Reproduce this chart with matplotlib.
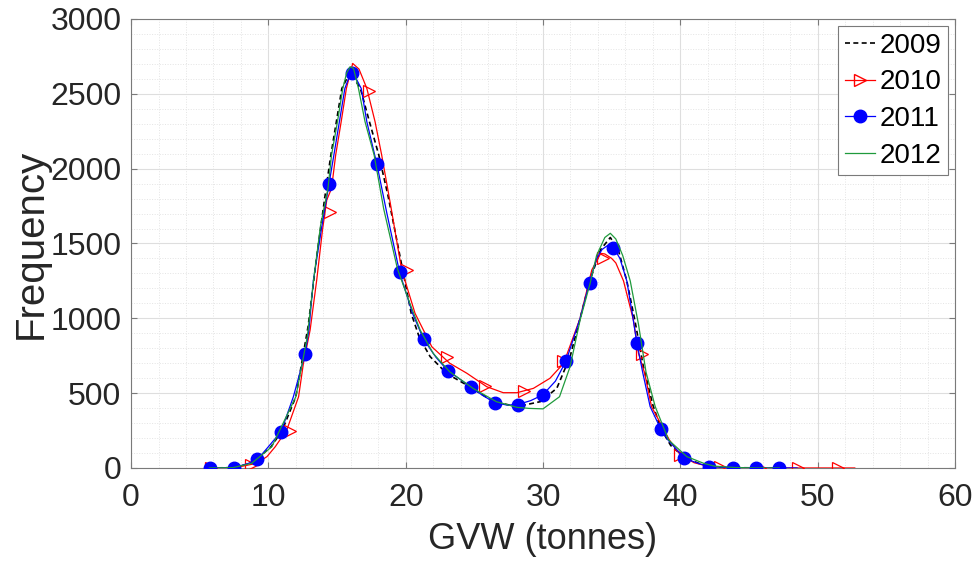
import matplotlib
matplotlib.use("Agg")
import matplotlib.pyplot as plt
from matplotlib.lines import Line2D
from matplotlib.ticker import MultipleLocator

plt.rcParams['font.family'] = ['Liberation Sans', 'DejaVu Sans']

# 2009 - smooth curve only
x2009 = [5.7, 7.4, 8.8, 10.2, 11.0, 12.0, 12.9, 13.5, 14.2, 14.55, 14.95, 15.35, 15.95,
         16.7, 17.36, 18.04, 18.7, 19.4, 20.4, 21.0, 21.78, 23.0, 24.45, 26.4, 28.1,
         29.8, 31.0, 31.97, 32.7, 33.4, 34.2, 34.9, 35.5, 36.1, 36.7, 37.3, 38.0, 38.6,
         39.3, 40.3, 41.5, 42.5, 44.0, 46.0, 47.2]
y2009 = [0, 2, 31, 142, 250, 476, 950, 1400, 1868, 2091, 2313, 2536, 2645,
         2536, 2313, 2091, 1824, 1500, 1033, 870, 744, 630, 554, 443, 410,
         443, 532, 744, 1000, 1250, 1460, 1540, 1450, 1250, 980, 680, 420, 260,
         150, 70, 25, 8, 2, 0, 0]

# 2010 - smooth curve + marker points
x2010_line = [5.5, 7.0, 8.0, 9.15, 9.9, 10.5, 11.34, 12.2, 12.55, 13.04, 13.52, 13.94,
              14.25, 14.6, 14.9, 15.3, 15.68, 16.14, 16.6, 17.17, 17.77, 18.25, 18.9,
              19.7, 20.68, 21.9, 23.2, 24.45, 25.9, 27.1, 28.1, 29.3, 30.5, 31.5, 32.3,
              32.7, 33.55, 34.2, 34.5, 35.0, 35.3, 35.86, 36.58, 36.95, 37.4, 37.9,
              39.2, 40.0, 41.0, 42.0, 43.0, 44.0, 46.0, 49.0, 52.7]
y2010_line = [0, 2, 10, 31, 76, 142, 254, 476, 699, 922, 1256, 1590,
              1790, 1868, 2091, 2313, 2536, 2703, 2665, 2536, 2313, 2091, 1757,
              1327, 1033, 810, 700, 633, 543, 503, 503, 532, 599, 699, 900,
              1000, 1323, 1434, 1430, 1400, 1370, 1250, 989, 766, 633, 410,
              187, 87, 35, 12, 5, 2, 0, 0, 0]
x2010_pts = [5.8, 8.7, 11.55, 14.5, 17.33, 20.1, 23.0, 25.8, 28.65, 31.45, 34.4,
             37.2, 40.0, 42.9, 45.8, 48.6, 51.5]
y2010_pts = [0, 20, 245, 1712, 2520, 1325, 740, 548, 515, 715, 1405,
             760, 87, 9, 0, 0, 0]

# 2011 - smooth curve + marker points
x2011_line = [5.7, 7.5, 8.55, 9.22, 10.0, 10.93, 11.82, 12.67, 12.95, 13.28, 13.85,
              14.4, 14.77, 15.17, 15.57, 16.07, 16.76, 17.17, 17.9, 18.63, 19.56, 20.5,
              21.3, 22.2, 23.06, 24.0, 24.76, 25.6, 26.5, 27.4, 28.2, 29.1, 29.98, 30.9,
              31.68, 32.7, 33.38, 33.9, 34.3, 34.84, 35.13, 35.6, 36.1, 36.5, 36.83,
              37.27, 37.8, 38.58, 39.1, 40.3, 41.3, 42.05, 43.8, 45.5, 47.2, 48.5]
y2011_line = [0, 2, 31, 58, 142, 243, 476, 762, 922, 1256, 1590,
              1890, 2091, 2313, 2536, 2659, 2536, 2313, 2030, 1701, 1305, 1033,
              860, 740, 650, 590, 539, 485, 436, 420, 425, 450, 488, 580,
              715, 1000, 1238, 1400, 1460, 1496, 1472, 1400, 1250, 1030, 837,
              633, 410, 258, 187, 65, 31, 9, 2, 0, 0, 0]
x2011_pts = [5.75, 7.5, 9.2, 10.93, 12.67, 14.4, 16.1, 17.9, 19.6, 21.3, 23.06, 24.78,
             26.5, 28.2, 29.98, 31.67, 33.4, 35.13, 36.85, 38.58, 40.3, 42.05, 43.8,
             45.5, 47.2]
y2011_pts = [0, 2, 58, 243, 762, 1897, 2641, 2031, 1307, 862, 648, 541,
             436, 423, 488, 712, 1236, 1472, 835, 258, 65, 9, 2,
             0, 0]

# 2012 - smooth curve only
x2012 = [5.7, 7.4, 8.78, 10.25, 12.0, 12.84, 13.3, 13.8, 14.34, 14.6, 15.03, 15.42,
         15.7, 15.95, 16.2, 16.56, 17.04, 17.7, 18.4, 19.4, 20.3, 21.05, 22.0, 23.2,
         24.9, 26.6, 28.1, 29.0, 30.0, 31.2, 31.97, 32.7, 33.43, 33.9, 34.5, 34.9,
         35.3, 35.8, 36.35, 36.95, 37.5, 38.17, 39.14, 40.47, 41.7, 42.5, 44.0, 45.5, 47.2]
y2012 = [0, 2, 31, 142, 476, 880, 1260, 1620, 1868, 2091, 2313, 2536,
         2640, 2681, 2670, 2536, 2313, 2091, 1730, 1330, 1100, 922, 766, 643,
         532, 443, 405, 398, 395, 476, 677, 989, 1234, 1420, 1540, 1568,
         1530, 1420, 1250, 960, 640, 410, 187, 76, 31, 12, 3, 0, 0]

c_red = '#ff0000'
c_blue = '#0000ff'
c_green = '#1f9a3c'
dash = (0, (3, 2))

fig = plt.figure(figsize=(9.78, 5.70), dpi=100)
ax = fig.add_axes([0.134, 0.179, 0.8425, 0.7877])

ax.plot(x2009, y2009, color='k', lw=1.2, ls=dash, zorder=3)
ax.plot(x2010_line, y2010_line, color=c_red, lw=0.9, zorder=3)
ax.plot(x2010_pts, y2010_pts, ls='none', marker='>', ms=9, mfc='none', mec=c_red,
        mew=0.9, zorder=3)
ax.plot(x2011_line, y2011_line, color=c_blue, lw=0.9, zorder=4)
ax.plot(x2011_pts, y2011_pts, ls='none', marker='o', ms=9, mfc=c_blue, mec=c_blue,
        zorder=4)
ax.plot(x2012, y2012, color=c_green, lw=0.9, zorder=5)

ax.set_xlim(0, 60)
ax.set_ylim(0, 3000)
ax.xaxis.set_major_locator(MultipleLocator(10))
ax.xaxis.set_minor_locator(MultipleLocator(2))
ax.yaxis.set_major_locator(MultipleLocator(500))
ax.yaxis.set_minor_locator(MultipleLocator(100))

ax.grid(True, which='major', color='#dedede', lw=0.8, ls='-', zorder=0)
ax.grid(True, which='minor', color='#e4e4e4', lw=0.7, ls=':', zorder=0)
ax.set_axisbelow(True)

for s in ax.spines.values():
    s.set_color('#7a7a7a')
    s.set_linewidth(0.8)
ax.tick_params(which='major', direction='in', length=4.5, width=0.8, color='#7a7a7a',
               top=True, right=True, labelsize=23, labelcolor='#262626')
ax.tick_params(axis='x', which='major', pad=11)
ax.tick_params(axis='y', which='major', pad=7)
ax.tick_params(which='minor', length=0, top=True, right=True)

ax.set_xlabel('GVW (tonnes)', fontsize=26, color='#262626', labelpad=6)
ax.set_ylabel('Frequency', fontsize=29, color='#262626', labelpad=0)

handles = [
    Line2D([], [], color='k', lw=1.2, ls=dash),
    Line2D([], [], color=c_red, lw=0.9, marker='>', ms=9, mfc='none', mec=c_red),
    Line2D([], [], color=c_blue, lw=0.9, marker='o', ms=9, mfc=c_blue, mec=c_blue),
    Line2D([], [], color=c_green, lw=0.9),
]
leg = ax.legend(handles, ['2009', '2010', '2011', '2012'], loc='upper right',
                fontsize=20, handlelength=1.1, handletextpad=0.15, labelspacing=0.38,
                borderpad=0.25, borderaxespad=0.25, fancybox=False, framealpha=1)
leg.get_frame().set_edgecolor('#7a7a7a')
leg.get_frame().set_linewidth(0.8)

plt.savefig('out.png', dpi=100)
